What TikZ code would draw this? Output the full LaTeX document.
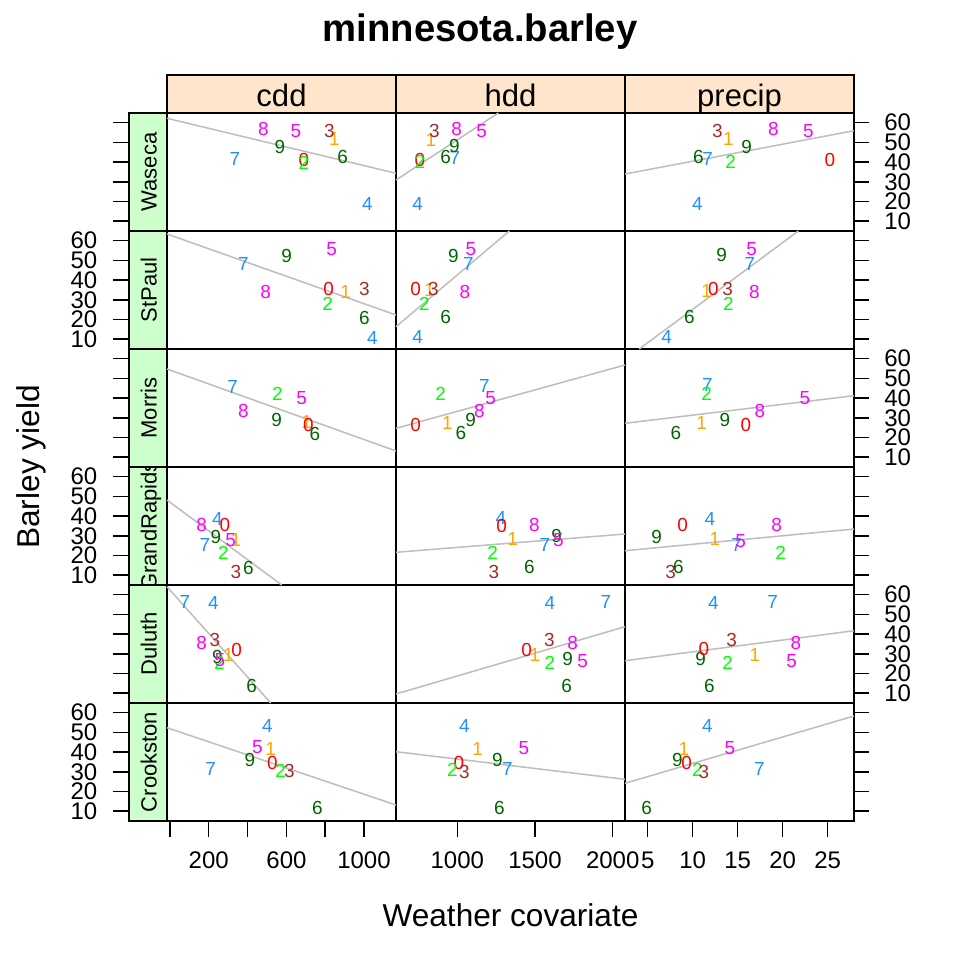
\documentclass[tikz,border=0pt]{standalone}
\usepackage{fontspec}
\setmainfont{Liberation Sans}
\usepackage{xcolor}
\usepackage{tikz}

\definecolor{y0col}{HTML}{FF0000}
\definecolor{y1col}{HTML}{FFA500}
\definecolor{y2col}{HTML}{00FF00}
\definecolor{y3col}{HTML}{A52A2A}
\definecolor{y4col}{HTML}{1E90FF}
\definecolor{y5col}{HTML}{FF00FF}
\definecolor{y6col}{HTML}{006400}
\definecolor{fitgray}{HTML}{BEBEBE}
\definecolor{toppeach}{HTML}{FFE5CC}
\definecolor{sidegreen}{HTML}{CCFFCC}

\tikzset{
  yr0/.style={text=y0col}, yr1/.style={text=y1col}, yr2/.style={text=y2col},
  yr3/.style={text=y3col}, yr4/.style={text=y4col}, yr5/.style={text=y5col},
  yr6/.style={text=y6col}, yr7/.style={text=y4col}, yr8/.style={text=y5col},
  yr9/.style={text=y6col},
  dig/.style={inner sep=0pt, font=\fontsize{14.2}{14}\selectfont},
  ticklab/.style={inner sep=0pt, font=\fontsize{18}{18}\selectfont},
  toplab/.style={inner sep=0pt, anchor=base, font=\fontsize{23.3}{24}\selectfont},
  sidelab/.style={inner sep=0pt, anchor=base, rotate=90, font=\fontsize{16.5}{17}\selectfont},
  fitline/.style={color=fitgray, line width=1.15pt},
  panelframe/.style={line width=1.1pt},
  tickline/.style={line width=1.1pt},
}

\begin{document}
\begin{tikzpicture}[x=0.75pt,y=0.75pt,yscale=-1,xscale=1]
\useasboundingbox (0,0) rectangle (960,960);

%Shape: Rectangle (strips)
\draw [panelframe, fill=toppeach] (167,75) rectangle (396,113);
\draw [panelframe, fill=toppeach] (396,75) rectangle (625,113);
\draw [panelframe, fill=toppeach] (625,75) rectangle (854,113);
\draw [panelframe, fill=sidegreen] (129,113) rectangle (167,231);
\draw [panelframe, fill=sidegreen] (129,231) rectangle (167,349);
\draw [panelframe, fill=sidegreen] (129,349) rectangle (167,467);
\draw [panelframe, fill=sidegreen] (129,467) rectangle (167,585);
\draw [panelframe, fill=sidegreen] (129,585) rectangle (167,703);
\draw [panelframe, fill=sidegreen] (129,703) rectangle (167,821);

% Text Node (strip labels)
\node [toplab] (stc) at (281.5,106.5) {cdd};
\node [toplab] (sth) at (510.5,106.5) {hdd};
\node [toplab] (stp) at (739.5,106.5) {precip};
\node [sidelab] (sW) at (156.5,172) {Waseca};
\node [sidelab] (sS) at (156.5,290) {StPaul};
\node [sidelab] (sM) at (156.5,408) {Morris};
\begin{scope}
\clip (129,467) rectangle (167,585);
\node [sidelab] (sG) at (156.5,526) {GrandRapids};
\end{scope}
\node [sidelab] (sD) at (156.5,644) {Duluth};
\node [sidelab] (sC) at (156.5,762) {Crookston};

%Shape: Rectangle (panels)
\draw [panelframe] (167,113) rectangle (854,821);
\draw [panelframe] (396,113) -- (396,821);
\draw [panelframe] (625,113) -- (625,821);
\draw [panelframe] (167,231) -- (854,231);
\draw [panelframe] (167,349) -- (854,349);
\draw [panelframe] (167,467) -- (854,467);
\draw [panelframe] (167,585) -- (854,585);
\draw [panelframe] (167,703) -- (854,703);

%Straight Lines (left ticks)
\draw [tickline] (113,122.7) -- (129,122.7) (113,142.4) -- (129,142.4) (113,162.1) -- (129,162.1) (113,181.8) -- (129,181.8) (113,201.5) -- (129,201.5) (113,221.2) -- (129,221.2);
\draw [tickline] (113,240.7) -- (129,240.7) (113,260.4) -- (129,260.4) (113,280.1) -- (129,280.1) (113,299.8) -- (129,299.8) (113,319.5) -- (129,319.5) (113,339.2) -- (129,339.2);
\draw [tickline] (113,358.7) -- (129,358.7) (113,378.4) -- (129,378.4) (113,398.1) -- (129,398.1) (113,417.8) -- (129,417.8) (113,437.5) -- (129,437.5) (113,457.2) -- (129,457.2);
\draw [tickline] (113,476.7) -- (129,476.7) (113,496.4) -- (129,496.4) (113,516.1) -- (129,516.1) (113,535.8) -- (129,535.8) (113,555.5) -- (129,555.5) (113,575.2) -- (129,575.2);
\draw [tickline] (113,594.7) -- (129,594.7) (113,614.4) -- (129,614.4) (113,634.1) -- (129,634.1) (113,653.8) -- (129,653.8) (113,673.5) -- (129,673.5) (113,693.2) -- (129,693.2);
\draw [tickline] (113,712.7) -- (129,712.7) (113,732.4) -- (129,732.4) (113,752.1) -- (129,752.1) (113,771.8) -- (129,771.8) (113,791.5) -- (129,791.5) (113,811.2) -- (129,811.2);
%Straight Lines (right ticks)
\draw [tickline] (854,122.7) -- (869,122.7) (854,142.4) -- (869,142.4) (854,162.1) -- (869,162.1) (854,181.8) -- (869,181.8) (854,201.5) -- (869,201.5) (854,221.2) -- (869,221.2);
\draw [tickline] (854,240.7) -- (869,240.7) (854,260.4) -- (869,260.4) (854,280.1) -- (869,280.1) (854,299.8) -- (869,299.8) (854,319.5) -- (869,319.5) (854,339.2) -- (869,339.2);
\draw [tickline] (854,358.7) -- (869,358.7) (854,378.4) -- (869,378.4) (854,398.1) -- (869,398.1) (854,417.8) -- (869,417.8) (854,437.5) -- (869,437.5) (854,457.2) -- (869,457.2);
\draw [tickline] (854,476.7) -- (869,476.7) (854,496.4) -- (869,496.4) (854,516.1) -- (869,516.1) (854,535.8) -- (869,535.8) (854,555.5) -- (869,555.5) (854,575.2) -- (869,575.2);
\draw [tickline] (854,594.7) -- (869,594.7) (854,614.4) -- (869,614.4) (854,634.1) -- (869,634.1) (854,653.8) -- (869,653.8) (854,673.5) -- (869,673.5) (854,693.2) -- (869,693.2);
\draw [tickline] (854,712.7) -- (869,712.7) (854,732.4) -- (869,732.4) (854,752.1) -- (869,752.1) (854,771.8) -- (869,771.8) (854,791.5) -- (869,791.5) (854,811.2) -- (869,811.2);
%Straight Lines (bottom ticks)
\draw [tickline] (170,821) -- (170,837) (208.7,821) -- (208.7,837) (247.5,821) -- (247.5,837) (286.5,821) -- (286.5,837) (325.2,821) -- (325.2,837) (364,821) -- (364,837);
\draw [tickline] (457.3,821) -- (457.3,837) (535,821) -- (535,837) (612.7,821) -- (612.7,837);
\draw [tickline] (647.7,821) -- (647.7,837) (692.7,821) -- (692.7,837) (737.7,821) -- (737.7,837) (782.7,821) -- (782.7,837) (827.7,821) -- (827.7,837);

% Text Node (right axis labels)
\node [ticklab, anchor=west] (yW60) at (884,122.7) {60};
\node [ticklab, anchor=west] (yW50) at (884,142.4) {50};
\node [ticklab, anchor=west] (yW40) at (884,162.1) {40};
\node [ticklab, anchor=west] (yW30) at (884,181.8) {30};
\node [ticklab, anchor=west] (yW20) at (884,201.5) {20};
\node [ticklab, anchor=west] (yW10) at (884,221.2) {10};
\node [ticklab, anchor=west] (yM60) at (884,358.7) {60};
\node [ticklab, anchor=west] (yM50) at (884,378.4) {50};
\node [ticklab, anchor=west] (yM40) at (884,398.1) {40};
\node [ticklab, anchor=west] (yM30) at (884,417.8) {30};
\node [ticklab, anchor=west] (yM20) at (884,437.5) {20};
\node [ticklab, anchor=west] (yM10) at (884,457.2) {10};
\node [ticklab, anchor=west] (yD60) at (884,594.7) {60};
\node [ticklab, anchor=west] (yD50) at (884,614.4) {50};
\node [ticklab, anchor=west] (yD40) at (884,634.1) {40};
\node [ticklab, anchor=west] (yD30) at (884,653.8) {30};
\node [ticklab, anchor=west] (yD20) at (884,673.5) {20};
\node [ticklab, anchor=west] (yD10) at (884,693.2) {10};
% Text Node (left axis labels)
\node [ticklab, anchor=east] (yS60) at (97.5,240.7) {60};
\node [ticklab, anchor=east] (yS50) at (97.5,260.4) {50};
\node [ticklab, anchor=east] (yS40) at (97.5,280.1) {40};
\node [ticklab, anchor=east] (yS30) at (97.5,299.8) {30};
\node [ticklab, anchor=east] (yS20) at (97.5,319.5) {20};
\node [ticklab, anchor=east] (yS10) at (97.5,339.2) {10};
\node [ticklab, anchor=east] (yG60) at (97.5,476.7) {60};
\node [ticklab, anchor=east] (yG50) at (97.5,496.4) {50};
\node [ticklab, anchor=east] (yG40) at (97.5,516.1) {40};
\node [ticklab, anchor=east] (yG30) at (97.5,535.8) {30};
\node [ticklab, anchor=east] (yG20) at (97.5,555.5) {20};
\node [ticklab, anchor=east] (yG10) at (97.5,575.2) {10};
\node [ticklab, anchor=east] (yC60) at (97.5,712.7) {60};
\node [ticklab, anchor=east] (yC50) at (97.5,732.4) {50};
\node [ticklab, anchor=east] (yC40) at (97.5,752.1) {40};
\node [ticklab, anchor=east] (yC30) at (97.5,771.8) {30};
\node [ticklab, anchor=east] (yC20) at (97.5,791.5) {20};
\node [ticklab, anchor=east] (yC10) at (97.5,811.2) {10};
% Text Node (bottom axis labels)
\node [ticklab] (xc200) at (208.7,860) {200};
\node [ticklab] (xc600) at (286.5,860) {600};
\node [ticklab] (xc1000) at (364,860) {1000};
\node [ticklab] (xh1000) at (457.3,860) {1000};
\node [ticklab] (xh1500) at (535,860) {1500};
\node [ticklab] (xh2000) at (612.7,860) {2000};
\node [ticklab] (xp5) at (647.7,860) {5};
\node [ticklab] (xp10) at (692.7,860) {10};
\node [ticklab] (xp15) at (737.7,860) {15};
\node [ticklab] (xp20) at (782.7,860) {20};
\node [ticklab] (xp25) at (827.7,860) {25};

%Straight Lines (fitted lines)
\draw [fitline] (167,118.3) -- (396,173.3);
\draw [fitline] (167,234) -- (396,315);
\draw [fitline] (167,369) -- (396,451);
\draw [fitline] (167,500) -- (281.7,585);
\draw [fitline] (167,586.7) -- (270.7,703);
\draw [fitline] (167,727.7) -- (396,805);
\draw [fitline] (396,180) -- (498.3,113);
\draw [fitline] (396,326.7) -- (509.3,231);
\draw [fitline] (396,428.3) -- (625,365);
\draw [fitline] (396,552.3) -- (625,534);
\draw [fitline] (396,694) -- (625,626.7);
\draw [fitline] (396,751.7) -- (625,779.3);
\draw [fitline] (625,174) -- (854,130.7);
\draw [fitline] (639.3,349) -- (798.3,231);
\draw [fitline] (625,423.3) -- (854,395.7);
\draw [fitline] (625,550.7) -- (854,529);
\draw [fitline] (625,660.7) -- (854,630.7);
\draw [fitline] (625,783.3) -- (854,716);

% Text Node (Waseca, cdd)
\node [dig, yr7] (Wc7) at (235,159) {7};
\node [dig, yr8] (Wc8) at (263.3,129.3) {8};
\node [dig, yr9] (Wc9) at (280,147.3) {9};
\node [dig, yr0] (Wc0) at (304,160) {0};
\node [dig, yr1] (Wc1) at (334.3,139.3) {1};
\node [dig, yr2] (Wc2) at (304,162.7) {2};
\node [dig, yr3] (Wc3) at (329.3,130.7) {3};
\node [dig, yr4] (Wc4) at (367.3,204.3) {4};
\node [dig, yr5] (Wc5) at (296,131) {5};
\node [dig, yr6] (Wc6) at (342.7,156.7) {6};
% Text Node (StPaul, cdd)
\node [dig, yr7] (Sc7) at (243.3,264.3) {7};
\node [dig, yr8] (Sc8) at (265.7,292.3) {8};
\node [dig, yr9] (Sc9) at (286.7,256) {9};
\node [dig, yr0] (Sc0) at (328.7,289) {0};
\node [dig, yr1] (Sc1) at (345.7,292.3) {1};
\node [dig, yr2] (Sc2) at (327.7,304) {2};
\node [dig, yr3] (Sc3) at (364.3,289.3) {3};
\node [dig, yr4] (Sc4) at (372.3,337.7) {4};
\node [dig, yr5] (Sc5) at (331.7,249.3) {5};
\node [dig, yr6] (Sc6) at (364.3,317.7) {6};
% Text Node (Morris, cdd)
\node [dig, yr7] (Mc7) at (232.7,386.7) {7};
\node [dig, yr8] (Mc8) at (243.3,411) {8};
\node [dig, yr9] (Mc9) at (276.7,420) {9};
\node [dig, yr1] (Mc1) at (306.7,422.3) {1};
\node [dig, yr0] (Mc0) at (308.3,425) {0};
\node [dig, yr2] (Mc2) at (277.3,394.3) {2};
\node [dig, yr5] (Mc5) at (301.7,398.3) {5};
\node [dig, yr6] (Mc6) at (315,434.3) {6};
% Text Node (GrandRapids, cdd)
\node [dig, yr7] (Gc7) at (205,545) {7};
\node [dig, yr8] (Gc8) at (201.7,525) {8};
\node [dig, yr9] (Gc9) at (216,536.7) {9};
\node [dig, yr4] (Gc4) at (217.3,519) {4};
\node [dig, yr0] (Gc0) at (225,525) {0};
\node [dig, yr1] (Gc1) at (236,540) {1};
\node [dig, yr2] (Gc2) at (223.3,553.3) {2};
\node [dig, yr3] (Gc3) at (236,571.7) {3};
\node [dig, yr5] (Gc5) at (230.7,540) {5};
\node [dig, yr6] (Gc6) at (248.3,567.7) {6};
% Text Node (Duluth, cdd)
\node [dig, yr7] (Dc7) at (185,601.7) {7};
\node [dig, yr8] (Dc8) at (201.7,642.7) {8};
\node [dig, yr9] (Dc9) at (217.3,657.3) {9};
\node [dig, yr0] (Dc0) at (236.7,650) {0};
\node [dig, yr1] (Dc1) at (228.3,655) {1};
\node [dig, yr2] (Dc2) at (219.3,662.7) {2};
\node [dig, yr3] (Dc3) at (215,640) {3};
\node [dig, yr4] (Dc4) at (213.3,602.7) {4};
\node [dig, yr5] (Dc5) at (220,660) {5};
\node [dig, yr6] (Dc6) at (251.7,686) {6};
% Text Node (Crookston, cdd)
\node [dig, yr7] (Cc7) at (210.7,769) {7};
\node [dig, yr9] (Cc9) at (250,760) {9};
\node [dig, yr0] (Cc0) at (272.3,763.3) {0};
\node [dig, yr1] (Cc1) at (270.7,749.3) {1};
\node [dig, yr2] (Cc2) at (280.7,770.7) {2};
\node [dig, yr3] (Cc3) at (289.3,770.7) {3};
\node [dig, yr4] (Cc4) at (267.3,725.7) {4};
\node [dig, yr5] (Cc5) at (257.3,747.3) {5};
\node [dig, yr6] (Cc6) at (317.3,807.7) {6};

% Text Node (Waseca, hdd)
\node [dig, yr7] (Wh7) at (455,158.3) {7};
\node [dig, yr8] (Wh8) at (456.7,129) {8};
\node [dig, yr9] (Wh9) at (454.3,146) {9};
\node [dig, yr0] (Wh0) at (420,160) {0};
\node [dig, yr1] (Wh1) at (431,140) {1};
\node [dig, yr2] (Wh2) at (420,161.7) {2};
\node [dig, yr3] (Wh3) at (434.3,130.7) {3};
\node [dig, yr4] (Wh4) at (417.7,204) {4};
\node [dig, yr5] (Wh5) at (481.7,130.7) {5};
\node [dig, yr6] (Wh6) at (445.7,156.7) {6};
% Text Node (StPaul, hdd)
\node [dig, yr7] (Sh7) at (468.3,264) {7};
\node [dig, yr8] (Sh8) at (465,292.3) {8};
\node [dig, yr9] (Sh9) at (453.3,255.7) {9};
\node [dig, yr0] (Sh0) at (415.7,289.3) {0};
\node [dig, yr1] (Sh1) at (429.3,290) {1};
\node [dig, yr2] (Sh2) at (424.3,304) {2};
\node [dig, yr3] (Sh3) at (433.3,289.3) {3};
\node [dig, yr4] (Sh4) at (417.7,337.3) {4};
\node [dig, yr5] (Sh5) at (471,249) {5};
\node [dig, yr6] (Sh6) at (445.7,317.3) {6};
% Text Node (Morris, hdd)
\node [dig, yr7] (Mh7) at (484.3,385.7) {7};
\node [dig, yr8] (Mh8) at (479.3,411) {8};
\node [dig, yr9] (Mh9) at (470.7,420) {9};
\node [dig, yr0] (Mh0) at (415.7,425) {0};
\node [dig, yr1] (Mh1) at (447.3,422.7) {1};
\node [dig, yr2] (Mh2) at (440.7,394.3) {2};
\node [dig, yr5] (Mh5) at (490.7,398.3) {5};
\node [dig, yr6] (Mh6) at (461,433.3) {6};
% Text Node (GrandRapids, hdd)
\node [dig, yr7] (Gh7) at (545,545) {7};
\node [dig, yr8] (Gh8) at (534.3,525) {8};
\node [dig, yr9] (Gh9) at (556.7,535.7) {9};
\node [dig, yr4] (Gh4) at (501,518.3) {4};
\node [dig, yr0] (Gh0) at (501.7,526) {0};
\node [dig, yr1] (Gh1) at (512.7,539.3) {1};
\node [dig, yr2] (Gh2) at (492.7,553.3) {2};
\node [dig, yr3] (Gh3) at (494,572.3) {3};
\node [dig, yr5] (Gh5) at (558.3,540) {5};
\node [dig, yr6] (Gh6) at (529.3,567.3) {6};
% Text Node (Duluth, hdd)
\node [dig, yr7] (Dh7) at (606,601.7) {7};
\node [dig, yr8] (Dh8) at (572.7,642.7) {8};
\node [dig, yr9] (Dh9) at (567.7,659) {9};
\node [dig, yr0] (Dh0) at (526.7,650) {0};
\node [dig, yr1] (Dh1) at (535,655) {1};
\node [dig, yr2] (Dh2) at (550,662.7) {2};
\node [dig, yr3] (Dh3) at (549.3,640) {3};
\node [dig, yr4] (Dh4) at (550,602.7) {4};
\node [dig, yr5] (Dh5) at (582.7,660.7) {5};
\node [dig, yr6] (Dh6) at (566.7,686) {6};
% Text Node (Crookston, hdd)
\node [dig, yr7] (Ch7) at (507.3,769) {7};
\node [dig, yr9] (Ch9) at (497.3,760) {9};
\node [dig, yr0] (Ch0) at (459,763.3) {0};
\node [dig, yr1] (Ch1) at (477.7,749) {1};
\node [dig, yr2] (Ch2) at (452.3,770) {2};
\node [dig, yr3] (Ch3) at (464.3,771.7) {3};
\node [dig, yr4] (Ch4) at (464.3,725.7) {4};
\node [dig, yr5] (Ch5) at (524,747.7) {5};
\node [dig, yr6] (Ch6) at (499.3,807.7) {6};

% Text Node (Waseca, precip)
\node [dig, yr7] (Wp7) at (707.7,159) {7};
\node [dig, yr8] (Wp8) at (773.3,129) {8};
\node [dig, yr9] (Wp9) at (746.7,147.3) {9};
\node [dig, yr0] (Wp0) at (830,160) {0};
\node [dig, yr1] (Wp1) at (728.3,139.3) {1};
\node [dig, yr2] (Wp2) at (730.7,162.3) {2};
\node [dig, yr3] (Wp3) at (717.3,130.7) {3};
\node [dig, yr4] (Wp4) at (697.3,204) {4};
\node [dig, yr5] (Wp5) at (808.3,130.7) {5};
\node [dig, yr6] (Wp6) at (698.3,156.7) {6};
% Text Node (StPaul, precip)
\node [dig, yr7] (Sp7) at (750,264) {7};
\node [dig, yr8] (Sp8) at (754.3,292.3) {8};
\node [dig, yr9] (Sp9) at (721.7,255) {9};
\node [dig, yr0] (Sp0) at (713.3,289) {0};
\node [dig, yr1] (Sp1) at (706.7,291) {1};
\node [dig, yr2] (Sp2) at (728.3,304) {2};
\node [dig, yr3] (Sp3) at (727.7,289) {3};
\node [dig, yr4] (Sp4) at (666.7,337.3) {4};
\node [dig, yr5] (Sp5) at (751.7,249) {5};
\node [dig, yr6] (Sp6) at (689.3,317.3) {6};
% Text Node (Morris, precip)
\node [dig, yr7] (Mp7) at (707.3,385) {7};
\node [dig, yr8] (Mp8) at (760,411) {8};
\node [dig, yr9] (Mp9) at (725,420) {9};
\node [dig, yr0] (Mp0) at (746,425) {0};
\node [dig, yr1] (Mp1) at (701.7,422.7) {1};
\node [dig, yr2] (Mp2) at (706.7,394.3) {2};
\node [dig, yr5] (Mp5) at (805,398.3) {5};
\node [dig, yr6] (Mp6) at (676,433.3) {6};
% Text Node (GrandRapids, precip)
\node [dig, yr7] (Gp7) at (736.7,545) {7};
\node [dig, yr8] (Gp8) at (776.7,525) {8};
\node [dig, yr9] (Gp9) at (656.7,536.7) {9};
\node [dig, yr0] (Gp0) at (682.7,525) {0};
\node [dig, yr1] (Gp1) at (715,539.3) {1};
\node [dig, yr2] (Gp2) at (780.7,553.3) {2};
\node [dig, yr3] (Gp3) at (670.7,572.3) {3};
\node [dig, yr4] (Gp4) at (710,519) {4};
\node [dig, yr5] (Gp5) at (740.7,540.7) {5};
\node [dig, yr6] (Gp6) at (678.3,567.3) {6};
% Text Node (Duluth, precip)
\node [dig, yr7] (Dp7) at (772.7,601.7) {7};
\node [dig, yr8] (Dp8) at (796,642.7) {8};
\node [dig, yr9] (Dp9) at (700.7,659) {9};
\node [dig, yr0] (Dp0) at (704,649.3) {0};
\node [dig, yr1] (Dp1) at (755,655) {1};
\node [dig, yr2] (Dp2) at (727.7,662.7) {2};
\node [dig, yr3] (Dp3) at (731.7,640) {3};
\node [dig, yr4] (Dp4) at (713.3,602.7) {4};
\node [dig, yr5] (Dp5) at (791.7,660.7) {5};
\node [dig, yr6] (Dp6) at (709.3,686) {6};
% Text Node (Crookston, precip)
\node [dig, yr7] (Cp7) at (759.3,769) {7};
\node [dig, yr9] (Cp9) at (677.3,760) {9};
\node [dig, yr1] (Cp1) at (684,749) {1};
\node [dig, yr0] (Cp0) at (686.7,763.3) {0};
\node [dig, yr2] (Cp2) at (697.3,770) {2};
\node [dig, yr3] (Cp3) at (704,771.7) {3};
\node [dig, yr4] (Cp4) at (707.3,725.7) {4};
\node [dig, yr5] (Cp5) at (730,747.7) {5};
\node [dig, yr6] (Cp6) at (646.7,807.7) {6};

% Text Node (titles)
\node [inner sep=0pt, anchor=base, font=\fontsize{28.7}{30}\selectfont\bfseries] (title) at (480,41.7) {minnesota.barley};
\node [inner sep=0pt, anchor=base, font=\fontsize{23.7}{24}\selectfont] (xlab) at (510.5,926) {Weather covariate};
\node [inner sep=0pt, anchor=base, rotate=90, font=\fontsize{23.7}{24}\selectfont] (ylab) at (39.5,467) {Barley yield};

\end{tikzpicture}
\end{document}
